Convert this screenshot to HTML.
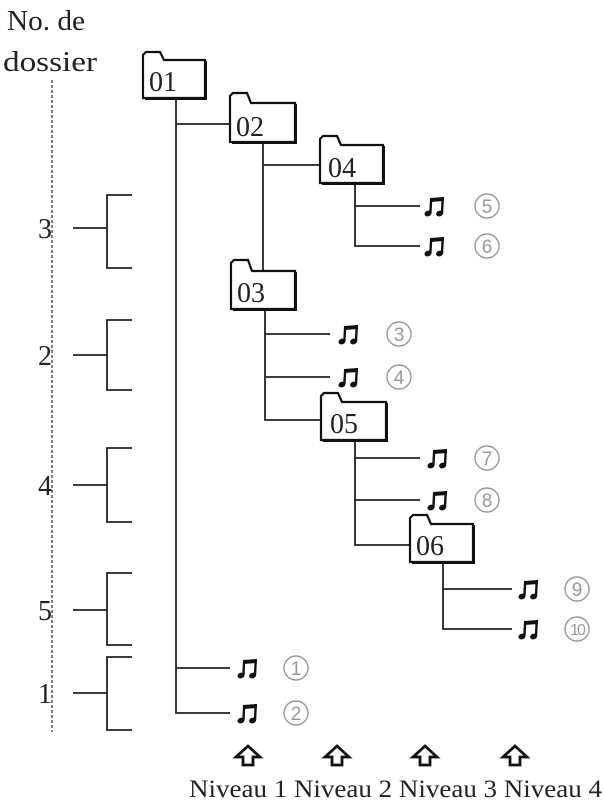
<!DOCTYPE html>
<html><head><meta charset="utf-8"><style>
html,body{margin:0;padding:0;background:#fff;}
svg{display:block;}
text{font-family:"Liberation Serif",serif;fill:#222;}
.c text{font-family:"Liberation Sans",sans-serif;fill:#999;}
</style></head><body>
<svg width="604" height="803" viewBox="0 0 604 803" xmlns="http://www.w3.org/2000/svg">
<defs>
<g id="n">
<path d="M1 -8L15 -9V-5L1 -4Z" fill="#111"/>
<path d="M1 -8L3.4 -8L2.6 7L0.2 7Z" fill="#111"/>
<path d="M12.6 -9L15 -9L14.2 7L11.8 7Z" fill="#111"/>
<ellipse cx="-1" cy="7.5" rx="3.6" ry="2.8" fill="#111" transform="rotate(-20 -1 7.5)"/>
<ellipse cx="10.6" cy="7.5" rx="3.6" ry="2.8" fill="#111" transform="rotate(-20 10.6 7.5)"/>
</g>
</defs>
<text x="7" y="30" font-size="28" textLength="78" lengthAdjust="spacingAndGlyphs">No. de</text>
<text x="3" y="71" font-size="28" textLength="94" lengthAdjust="spacingAndGlyphs">dossier</text>
<line x1="52" y1="80" x2="52" y2="732" stroke="#555" stroke-width="1.5" stroke-dasharray="3,2"/>
<g stroke="#222" stroke-width="1.8" fill="none">
<path d="M132 195H107V268H132M73 228H107"/>
<path d="M132 320H107V390H132M73 355H107"/>
<path d="M132 448H107V522H132M73 485H107"/>
<path d="M132 573H107V645H132M73 610H107"/>
<path d="M132 657H107V730H132M73 693H107"/>
</g>
<g font-size="28">
<text x="38" y="238">3</text>
<text x="38" y="365">2</text>
<text x="38" y="495">4</text>
<text x="38" y="620">5</text>
<text x="38" y="703">1</text>
</g>
<g stroke="#222" stroke-width="1.8" fill="none">
<path d="M176 98V713H230M176 668H230M176 124H230"/>
<path d="M263 142V271M263 165H320"/>
<path d="M355 183V246H420M355 206H420"/>
<path d="M265 309V420H321M265 334H330M265 377H330"/>
<path d="M355 440V545H410M355 458H420M355 500H420"/>
<path d="M443 562V629H512M443 589H512"/>
</g>
<g stroke="#111" stroke-width="2.2" fill="#fff">
<path d="M143 98V55L146 52H160L164 60H205V98Z"/>
<path d="M230 142V96L233 93H247L251 103H295V142Z"/>
<path d="M320 183V139L323 136H337L341 145H383V183Z"/>
<path d="M231 309V263L234 260H248L252 271H295V309Z"/>
<path d="M321 440V396L324 393H338L342 402H386V440Z"/>
<path d="M410 562V518L413 515H427L431 524H473V562Z"/>
</g>
<g stroke="#111" stroke-width="2" fill="none">
<path d="M145 99H206V61"/><path d="M232 143H296V104"/><path d="M322 184H384V146"/>
<path d="M233 310H296V272"/><path d="M323 441H387V403"/><path d="M412 563H474V525"/>
</g>
<g font-size="28">
<text x="149" y="91">01</text>
<text x="236" y="136">02</text>
<text x="328" y="177">04</text>
<text x="237" y="302">03</text>
<text x="330" y="433">05</text>
<text x="416" y="555">06</text>
</g>
<use href="#n" x="429" y="206"/><use href="#n" x="429" y="246"/>
<use href="#n" x="343" y="334"/><use href="#n" x="343" y="377"/>
<use href="#n" x="432" y="458"/><use href="#n" x="432" y="500"/>
<use href="#n" x="523" y="589"/><use href="#n" x="523" y="629"/>
<use href="#n" x="242" y="668"/><use href="#n" x="242" y="713"/>
<g stroke="#999" stroke-width="1.4" fill="none">
<circle cx="487" cy="206" r="12"/><circle cx="487" cy="246" r="12"/>
<circle cx="399" cy="334" r="12"/><circle cx="399" cy="377" r="12"/>
<circle cx="487" cy="458" r="12"/><circle cx="487" cy="500" r="12"/>
<circle cx="577" cy="589" r="12"/><circle cx="577" cy="629" r="12"/>
<circle cx="296" cy="668" r="12"/><circle cx="296" cy="713" r="12"/>
</g>
<g class="c" text-anchor="middle" font-size="19">
<text x="487" y="213">5</text><text x="487" y="253">6</text>
<text x="399" y="341">3</text><text x="399" y="384">4</text>
<text x="487" y="465">7</text><text x="487" y="507">8</text>
<text x="577" y="596">9</text><text x="577" y="635" font-size="16" letter-spacing="-2">10</text>
<text x="296" y="675">1</text><text x="296" y="720">2</text>
</g>
<g stroke="#111" stroke-width="2.8" fill="#fff" stroke-linejoin="miter">
<path d="M248 746L236 757H243V765H253V757H260Z"/>
<path d="M337 746L325 757H332V765H342V757H349Z"/>
<path d="M425 746L413 757H420V765H430V757H437Z"/>
<path d="M515 746L503 757H510V765H520V757H527Z"/>
</g>
<text x="189" y="797" font-size="25" textLength="413" lengthAdjust="spacingAndGlyphs">Niveau 1 Niveau 2 Niveau 3 Niveau 4</text>
</svg>
</body></html>
